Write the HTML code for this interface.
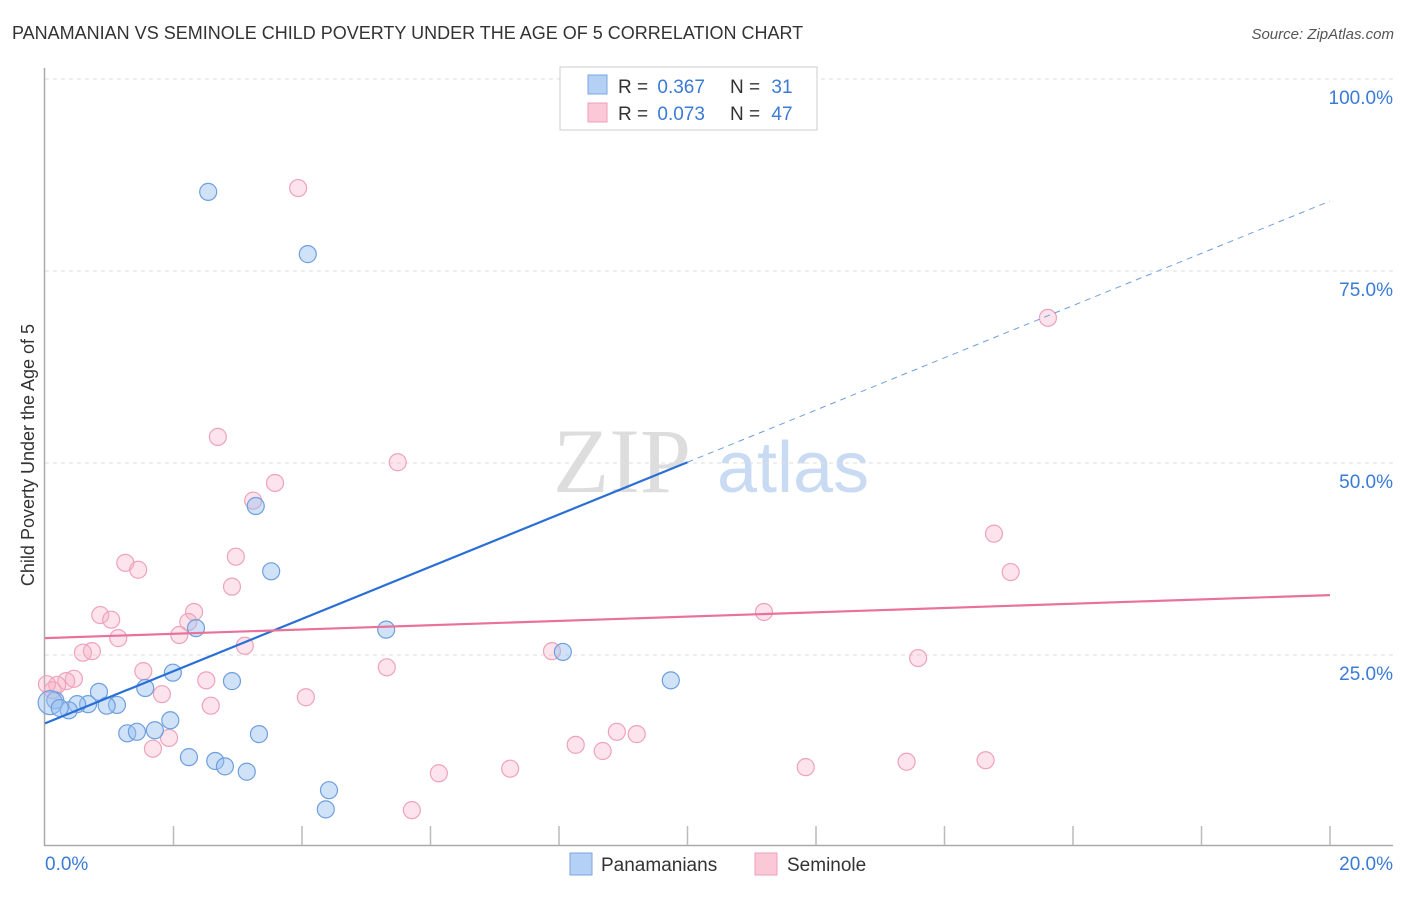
<!DOCTYPE html>
<html><head><meta charset="utf-8"><style>
body{margin:0;background:#fff;font-family:"Liberation Sans",sans-serif;}
</style></head><body>
<svg width="1406" height="892" xmlns="http://www.w3.org/2000/svg" font-family="Liberation Sans, sans-serif">
<text x="12" y="39" font-size="18" fill="#333">PANAMANIAN VS SEMINOLE CHILD POVERTY UNDER THE AGE OF 5 CORRELATION CHART</text>
<text x="1394" y="39" font-size="15" fill="#555" text-anchor="end" font-style="italic">Source: ZipAtlas.com</text>
<g>
<text x="553" y="492" font-size="92" fill="#ddd" font-family="Liberation Serif, serif">ZIP</text>
<text x="717" y="492" font-size="72" fill="#c9dbf3">atlas</text>
</g>
<g id="grid"></g>
<g id="axes"></g>
<g id="marks"></g>
<text transform="translate(34,455) rotate(-90)" font-size="18" fill="#333" text-anchor="middle">Child Poverty Under the Age of 5</text>
<g>
<rect x="560" y="67" width="257" height="63" fill="#fff" stroke="#ccc"/>
<rect x="588" y="75" width="19" height="19" fill="#b5d0f5" stroke="#7aa6e0"/>
<rect x="588" y="103" width="19" height="19" fill="#fac8d6" stroke="#ef9fb8"/>
<text x="618" y="93" font-size="19" fill="#333">R = <tspan fill="#3a7bd5" dx="4">0.367</tspan></text>
<text x="730" y="93" font-size="19" fill="#333">N = <tspan fill="#3a7bd5" dx="6">31</tspan></text>
<text x="618" y="120" font-size="19" fill="#333">R = <tspan fill="#3a7bd5" dx="4">0.073</tspan></text>
<text x="730" y="120" font-size="19" fill="#333">N = <tspan fill="#3a7bd5" dx="6">47</tspan></text>
</g>
<g>
<rect x="570" y="853" width="22" height="22" fill="#b5d0f5" stroke="#7aa6e0"/>
<text x="601" y="871" font-size="19" fill="#333">Panamanians</text>
<rect x="755" y="853" width="22" height="22" fill="#fac8d6" stroke="#ef9fb8"/>
<text x="787" y="871" font-size="19" fill="#333">Seminole</text>
</g>
</svg>
<script>
const xTicks=[0,2,4,6,8,10,12,14,16,18,20];
const yTicks=[25,50,75,100];
const yTickLabels=["25.0%","50.0%","75.0%","100.0%"];
const blueX=[8.50,2.54,4.09,3.28,3.52,2.35,5.31,8.06,9.74,1.99,1.56,2.91,0.84,1.12,0.96,0.67,0.50,0.37,0.16,0.08,0.23,1.28,1.43,1.71,1.95,3.33,2.24,2.65,2.80,3.14,4.42,4.37];
const blueY=[99.9,85.3,77.2,44.4,35.9,28.5,28.3,25.4,21.7,22.7,20.7,21.6,20.2,18.5,18.4,18.6,18.6,17.8,19.1,18.8,18.1,14.8,15.0,15.2,16.5,14.7,11.7,11.2,10.5,9.8,7.4,4.9];
const pinkX=[3.94,15.61,2.69,5.49,3.58,3.24,14.77,2.97,1.25,1.45,15.03,2.91,2.32,0.86,1.03,11.19,2.23,2.09,1.14,3.11,0.73,0.59,7.89,13.59,5.32,1.53,0.45,0.33,0.19,0.03,2.51,1.82,4.06,2.58,8.90,9.21,8.26,8.68,1.93,1.68,6.13,7.24,11.84,13.41,14.64,5.71,0.12];
const pinkY=[85.8,68.9,53.4,50.1,47.4,45.1,40.8,37.8,37.0,36.1,35.8,33.9,30.6,30.2,29.6,30.6,29.3,27.6,27.2,26.2,25.5,25.3,25.5,24.6,23.4,22.9,21.9,21.6,21.1,21.2,21.7,19.9,19.5,18.4,15.0,14.7,13.3,12.5,14.2,12.8,9.6,10.2,10.4,11.1,11.3,4.8,20.4];
const blueTrend=[16.1,84.1];
const pinkTrend=[27.2,32.8];
const NS="http://www.w3.org/2000/svg";
const X=v=>45+v/20*1285;
const Y=v=>847-v*7.68;
function mk(tag,attrs,parent){const e=document.createElementNS(NS,tag);for(const k in attrs)e.setAttribute(k,attrs[k]);document.getElementById(parent).appendChild(e);return e;}
yTicks.forEach((t,i)=>{
 const l=mk('line',{x1:45,x2:1393,y1:Y(t),y2:Y(t),stroke:'#ddd','stroke-dasharray':'4,4'},'grid');
 
 
 const tx=mk('text',{x:1393,y:Y(t)+25,'font-size':19,fill:'#3a7bd5','text-anchor':'end'},'grid');
 tx.textContent=yTickLabels[i];
 
 
});
const ax=mk('path',{d:'M44.5 68 V845.5 H1393',stroke:'#aaa',fill:'none','stroke-width':1.5},'axes');


xTicks.forEach(t=>{if(t===0)return;const l=mk('line',{x1:X(t),x2:X(t),y1:826,y2:845,stroke:'#bbb','stroke-width':1.5},'axes');
 
 });
[[0,'0.0%','start',45],[20,'20.0%','end',1393]].forEach(a=>{const t=mk('text',{x:a[3],y:870,'font-size':19,fill:'#3a7bd5','text-anchor':a[2]},'axes');t.textContent=a[1];
 
 });
function dots(xs,ys,fill,stroke,name){xs.forEach((x,i)=>{const c=mk('circle',{cx:X(x),cy:Y(ys[i]),r:(i===19&&name==='blue')?12:8.5,fill:fill,stroke:stroke,'stroke-width':1.2},'marks');
 
 });}
dots(pinkX,pinkY,'rgba(248,175,198,0.35)','#eea3bb','pink');
dots(blueX,blueY,'rgba(150,190,240,0.45)','#6e9fde','blue');
const bl=mk('line',{x1:X(0),y1:Y(blueTrend[0]),x2:X(10),y2:Y(blueTrend[0]+(blueTrend[1]-blueTrend[0])/2),stroke:'#2a6fd6','stroke-width':2.2},'marks');


const bd=mk('line',{x1:X(10),y1:Y(blueTrend[0]+(blueTrend[1]-blueTrend[0])/2),x2:X(20),y2:Y(blueTrend[1]),stroke:'#6e9fde','stroke-width':1,'stroke-dasharray':'6,5'},'marks');


const pl=mk('line',{x1:X(0),y1:Y(pinkTrend[0]),x2:X(20),y2:Y(pinkTrend[1]),stroke:'#e8729a','stroke-width':2.2},'marks');


</script>
</body></html>
